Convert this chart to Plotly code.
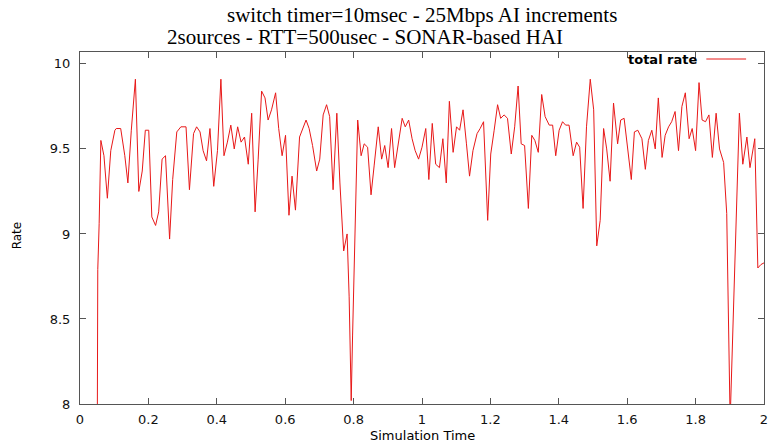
import plotly.graph_objects as go

# Simulation time (s) and total rate
time = [0.050, 0.052, 0.056, 0.058, 0.061, 0.070, 0.080, 0.090, 0.102, 0.106,
        0.119, 0.131, 0.140, 0.150, 0.162, 0.172, 0.182, 0.191, 0.201, 0.210,
        0.221, 0.230, 0.240, 0.250, 0.262, 0.271, 0.283, 0.295, 0.310, 0.320,
        0.332, 0.341, 0.351, 0.360, 0.370, 0.380, 0.391, 0.402, 0.412, 0.421,
        0.431, 0.441, 0.451, 0.461, 0.471, 0.481, 0.492, 0.502, 0.512, 0.521,
        0.531, 0.541, 0.550, 0.560, 0.572, 0.581, 0.591, 0.601, 0.611, 0.620,
        0.630, 0.642, 0.651, 0.661, 0.670, 0.680, 0.692, 0.701, 0.711, 0.721,
        0.730, 0.740, 0.751, 0.760, 0.771, 0.781, 0.787, 0.793, 0.797, 0.802,
        0.806, 0.812, 0.822, 0.831, 0.841, 0.851, 0.860, 0.872, 0.882, 0.891,
        0.901, 0.911, 0.920, 0.930, 0.942, 0.951, 0.961, 0.971, 0.980, 0.990,
        1.000, 1.011, 1.020, 1.030, 1.040, 1.051, 1.061, 1.071, 1.080, 1.091,
        1.101, 1.110, 1.120, 1.130, 1.139, 1.149, 1.161, 1.170, 1.180, 1.192,
        1.201, 1.211, 1.221, 1.230, 1.240, 1.250, 1.261, 1.271, 1.281, 1.290,
        1.300, 1.311, 1.321, 1.330, 1.340, 1.350, 1.360, 1.372, 1.382, 1.391,
        1.401, 1.411, 1.420, 1.430, 1.442, 1.452, 1.461, 1.471, 1.481, 1.492,
        1.502, 1.511, 1.521, 1.531, 1.540, 1.550, 1.560, 1.572, 1.581, 1.591,
        1.601, 1.612, 1.621, 1.631, 1.643, 1.653, 1.662, 1.672, 1.682, 1.691,
        1.702, 1.711, 1.721, 1.730, 1.740, 1.750, 1.760, 1.770, 1.781, 1.790,
        1.800, 1.810, 1.819, 1.829, 1.839, 1.849, 1.860, 1.870, 1.882, 1.891,
        1.901, 1.909, 1.918, 1.928, 1.938, 1.950, 1.959, 1.973, 1.982, 1.991,
        2.000]

total_rate = [7.50, 8.79, 9.06, 9.35, 9.55, 9.46, 9.21, 9.49, 9.61, 9.62,
              9.62, 9.46, 9.30, 9.61, 9.91, 9.25, 9.37, 9.61, 9.61, 9.10,
              9.05, 9.13, 9.44, 9.46, 8.97, 9.32, 9.60, 9.63, 9.63, 9.26,
              9.59, 9.63, 9.60, 9.49, 9.43, 9.62, 9.28, 9.49, 9.91, 9.46,
              9.54, 9.64, 9.50, 9.63, 9.54, 9.57, 9.41, 9.71, 9.13, 9.44,
              9.84, 9.80, 9.67, 9.73, 9.83, 9.62, 9.46, 9.58, 9.11, 9.34,
              9.14, 9.57, 9.62, 9.67, 9.62, 9.52, 9.37, 9.44, 9.70, 9.76,
              9.69, 9.26, 9.71, 9.30, 8.90, 9.00, 8.63, 8.02, 8.40, 8.85,
              9.24, 9.67, 9.46, 9.53, 9.51, 9.23, 9.40, 9.63, 9.44, 9.52,
              9.39, 9.62, 9.39, 9.51, 9.68, 9.63, 9.67, 9.56, 9.49, 9.44,
              9.51, 9.62, 9.32, 9.65, 9.41, 9.39, 9.56, 9.30, 9.78, 9.48,
              9.63, 9.61, 9.73, 9.53, 9.34, 9.49, 9.59, 9.62, 9.66, 9.08,
              9.47, 9.61, 9.76, 9.68, 9.70, 9.68, 9.47, 9.63, 9.87, 9.53,
              9.52, 9.15, 9.58, 9.55, 9.48, 9.82, 9.69, 9.64, 9.64, 9.46,
              9.61, 9.66, 9.64, 9.64, 9.46, 9.54, 9.51, 9.15, 9.63, 9.91,
              9.73, 8.93, 9.08, 9.62, 9.50, 9.31, 9.77, 9.53, 9.67, 9.68,
              9.51, 9.32, 9.60, 9.61, 9.56, 9.38, 9.55, 9.61, 9.50, 9.80,
              9.45, 9.58, 9.63, 9.66, 9.72, 9.49, 9.75, 9.83, 9.56, 9.62,
              9.49, 9.89, 9.67, 9.66, 9.70, 9.45, 9.71, 9.50, 9.42, 9.12,
              7.90, 8.48, 9.14, 9.71, 9.41, 9.57, 9.39, 9.56, 8.80, 8.82,
              8.83]

x_ticks = [0, 0.2, 0.4, 0.6, 0.8, 1, 1.2, 1.4, 1.6, 1.8, 2]
y_ticks = [8, 8.5, 9, 9.5, 10]

title_line1 = "switch timer=10msec - 25Mbps AI increments"
title_line2 = "2sources - RTT=500usec - SONAR-based HAI"
series_name = "total rate"
x_title = "Simulation Time"
y_title = "Rate"

RED = "rgb(232,24,24)"
AXIS = "#555555"
SANS = "DejaVu Sans, Liberation Sans, sans-serif"
SERIF = "Liberation Serif, Times New Roman, serif"

W, H = 774, 444
ML, MR, MT, MB = 80, 6, 52, 40
PW, PH = W - ML - MR, H - MT - MB


def px(x):
    return (x - ML) / PW


def py(y):
    return (H - MB - y) / PH


fig = go.Figure()
fig.add_trace(go.Scatter(x=time, y=total_rate, mode="lines", name=series_name,
                         line=dict(color=RED, width=1), showlegend=False))

axis_common = dict(showgrid=False, zeroline=False, showline=True, mirror="ticks",
                   linecolor=AXIS, linewidth=1, ticks="inside", ticklen=6,
                   tickcolor=AXIS, tickwidth=1,
                   tickfont=dict(family=SANS, size=13, color="#111111"))

fig.update_layout(
    width=W, height=H,
    margin=dict(l=ML, r=MR, t=MT, b=MB),
    paper_bgcolor="white", plot_bgcolor="white",
    xaxis=dict(range=[0, 2], tickvals=x_ticks, ticktext=[f"{v:g}" for v in x_ticks],
               ticklabelstandoff=3, **axis_common),
    yaxis=dict(range=[8, 10.07], tickvals=y_ticks, ticktext=[f"{v:g}" for v in y_ticks],
               ticklabelstandoff=6, **axis_common),
    annotations=[
        dict(text=title_line1, x=px(424), y=py(15), xref="paper", yref="paper",
             xanchor="center", yanchor="middle", showarrow=False,
             font=dict(family=SERIF, size=21, color="black")),
        dict(text=title_line2, x=px(367), y=py(37), xref="paper", yref="paper",
             xanchor="center", yanchor="middle", showarrow=False,
             font=dict(family=SERIF, size=21, color="black")),
        dict(text=x_title, x=px(424), y=py(435), xref="paper", yref="paper",
             xanchor="center", yanchor="middle", showarrow=False,
             font=dict(family=SANS, size=13, color="black")),
        dict(text=y_title, x=px(17), y=py(235), xref="paper", yref="paper",
             xanchor="center", yanchor="middle", textangle=-90, showarrow=False,
             font=dict(family=SANS, size=12, color="black")),
        dict(text="<b>" + series_name + "</b>", x=px(704), y=py(59), xref="paper",
             yref="paper", xanchor="right", yanchor="middle", showarrow=False,
             font=dict(family=SANS, size=13, color="black")),
    ],
    shapes=[dict(type="line", xref="paper", yref="paper", x0=px(710), x1=px(750),
                 y0=py(59), y1=py(59), line=dict(color=RED, width=1))],
)

fig.write_html("out.html")
